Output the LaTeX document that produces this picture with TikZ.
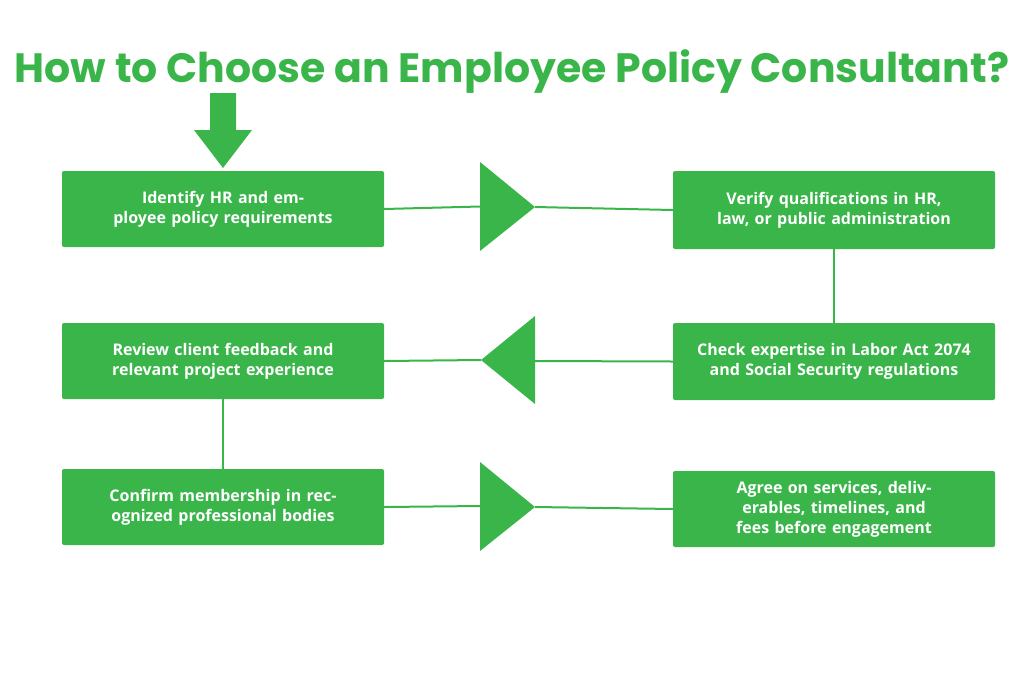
\documentclass[tikz,border=0pt]{standalone}
\usepackage{fontspec}
\setmainfont{Open Sans}
\newfontfamily\titlefont{Poppins}
\definecolor{gr}{HTML}{3AB54A}
\begin{document}
\begin{tikzpicture}[x=1pt,y=-1pt,
  box/.style={fill=gr,rounded corners=2pt,minimum width=322pt,text width=300pt,align=center,
    text=white,font=\bfseries\fontsize{16}{20}\selectfont,inner sep=0pt},
  ln/.style={gr,line width=2pt},
  tri/.style={fill=gr}]
\useasboundingbox (0,0) rectangle (1024,683);
\node[font=\titlefont\bfseries\fontsize{41}{48}\selectfont,text=gr] (title) at (512,72) {How to Choose an Employee Policy Consultant?};
\fill[gr] (210,93) -- (236,93) -- (236,130) -- (252,130) -- (223,168) -- (194,130) -- (210,130) -- cycle;
\node[box,minimum height=76pt] (b1) at (223,209) {Identify HR and employee policy requirements};
\node[box,minimum height=78pt] (b2) at (834,210) {Verify qualifications in HR, law, or public administration};
\node[box,minimum height=77pt] (b3) at (834,361.5) {Check expertise in Labor Act 2074 and Social Security regulations};
\node[box,minimum height=76pt] (b4) at (223,361) {Review client feedback and relevant project experience};
\node[box,minimum height=76pt] (b5) at (223,507) {Confirm membership in recognized professional bodies};
\node[box,minimum height=76pt] (b6) at (834,509) {Agree on services, deliverables, timelines, and fees before engagement};
\coordinate (t1) at (535,207);
\coordinate (t2) at (481,360);
\coordinate (t3) at (535,507);
\draw[ln] (b1.east) -- (480,206.5);
\draw[ln] (t1) -- (b2.west);
\fill[tri] (480,162) -- (t1) -- (480,251) -- cycle;
\draw[ln] (b2.south) -- (b3.north);
\draw[ln] (b3.west) -- (535,361);
\fill[tri] (535,316) -- (t2) -- (535,404) -- cycle;
\draw[ln] (t2) -- (b4.east);
\draw[ln] (b4.south) -- (b5.north);
\draw[ln] (b5.east) -- (480,506);
\fill[tri] (480,462) -- (t3) -- (480,551) -- cycle;
\draw[ln] (t3) -- (b6.west);
\end{tikzpicture}
\end{document}
